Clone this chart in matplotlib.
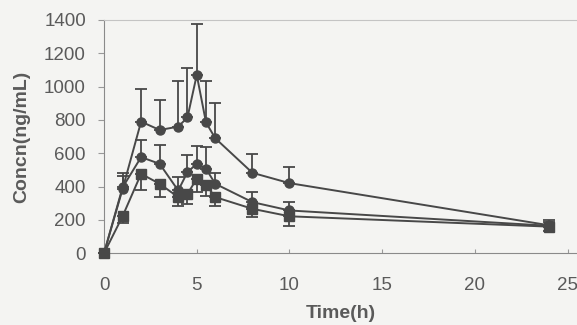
import numpy as np
from matplotlib import pyplot as plt

plt.rcParams['font.family'] = ['Liberation Sans', 'DejaVu Sans']

# sampling times (h)
time = [0, 1, 2, 3, 4, 4.5, 5, 5.5, 6, 8, 10, 24]

# three concentration profiles (ng/mL) with SD
high = [0, 385, 790, 740, 760, 815, 1070, 785, 690, 483, 421, 168]
high_sd = [0, 95, 196, 180, 276, 295, 305, 250, 210, 114, 96, 30]
mid = [0, 395, 577, 537, 377, 487, 537, 507, 417, 307, 257, 165]
mid_sd = [0, 70, 103, 115, 80, 100, 106, 130, 64, 60, 50, 25]
low = [0, 222, 477, 417, 337, 357, 447, 411, 337, 267, 222, 160]
low_sd = [0, 41, 100, 80, 56, 60, 80, 70, 56, 50, 60, 25]

col = '#484848'
txt = '#5a5a5a'
fig = plt.figure(figsize=(5.77, 3.25), dpi=100, facecolor='#f4f4f2')
ax = fig.add_axes([104 / 577, 1 - 253.3 / 325, 473 / 577, 233.3 / 325])
ax.set_facecolor('#f4f4f2')

def series(y, sd, marker, upper):
    y = np.array(y)
    sd = np.array(sd)
    yerr = [np.zeros_like(sd), sd] if upper else [sd, np.zeros_like(sd)]
    ax.errorbar(time, y, yerr=yerr, color=col, marker=marker, markersize=6.5,
                linewidth=1.4, elinewidth=1.3, capsize=4.5, capthick=1.3,
                zorder=3, clip_on=False)

series(high, high_sd, 'o', True)
series(mid, mid_sd, 'o', True)
series(low, low_sd, 's', False)

ax.set_xlim(0, 25.5)
ax.set_ylim(0, 1400)
ax.set_xticks(range(0, 26, 5))
ax.set_yticks(range(0, 1401, 200))
ax.tick_params(axis='x', direction='in', length=3, colors='#999999',
               labelcolor=txt, labelsize=13.5, pad=17)
ax.tick_params(axis='y', direction='out', length=4, colors='#999999',
               labelcolor=txt, labelsize=13.5, pad=9)
for s in ['left', 'bottom']:
    ax.spines[s].set_color('#8a8a8a')
ax.spines['top'].set_color('#c4c4c4')
ax.spines['right'].set_visible(False)
ax.set_xlabel('Time(h)', fontsize=14, fontweight='bold', color=txt, labelpad=8)
ax.set_ylabel('Concn(ng/mL)', fontsize=14, fontweight='bold', color=txt, labelpad=10)

fig.savefig('out.png', dpi=100, facecolor=fig.get_facecolor())
